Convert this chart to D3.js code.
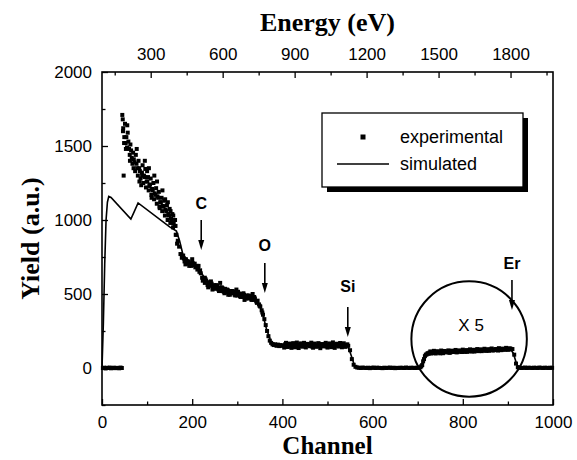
<!DOCTYPE html>
<html>
<head>
<meta charset="utf-8">
<script src="https://cdn.jsdelivr.net/npm/d3@7"></script>
<style>
  body { margin: 0; background: #fff; }
  svg { display: block; }
</style>
</head>
<body>
<div class="canvas"></div>
<script>

// data

// experimental, ch 2..44 step 3 (flat zero stub)
var expLowStart = 2, expLowStep = 3;
var expLow = [0,2,-3,1,0,3,-2,0,2,-1,1,0,-2,3,0];

// experimental, ch 45..399 step 3 (decay + C, O edges)
var expDecayStart = 45, expDecayStep = 3;
var expDecay = [1710,1300,1650,1560,1590,1480,1510,1420,1455,1390,1440,1350,1400,1330,1235,1370,
  1300,1345,1260,1290,1230,1280,1210,1250,1180,1215,1160,1190,1120,1150,1095,1130,1070,1100,
  1040,1075,1010,1040,980,1000,900,860,820,770,745,760,720,735,705,720,700,690,710,695,680,690,
  670,650,640,610,600,575,590,560,580,555,570,545,560,535,555,530,545,520,540,515,535,510,525,
  500,520,505,515,495,510,490,505,485,500,480,495,475,490,470,485,470,480,460,470,450,455,430,
  415,390,360,330,290,250,215,185,170,160,155,160,150,158,148,155,150];

// second pass through the noisy band, ch 46.5..166.5 step 3
var expBandStart = 46.5, expBandStep = 3;
var expBand = [1600,1560,1520,1490,1530,1440,1470,1380,1410,1330,1380,1300,1350,1280,1320,1250,
  1290,1220,1260,1200,1240,1170,1200,1140,1170,1110,1150,1090,1120,1060,1090,1030,1060,1000,
  1030,980,1000,950,960,900,840];

// second pass, ch 181.5..355.5 step 6
var expMidStart = 181.5, expMidStep = 6;
var expMid = [740,715,690,700,705,665,660,590,600,545,585,540,560,520,545,505,530,495,520,490,
  515,480,505,470,490,460,480,440,420,375];

// extra scatter points [channel, yield]
var expScatter = [[46,1680],[47,1620],[49,1520],[53,1480],[56,1640],[62,1400],[70,1350],[77,1480],
  [83,1260],[89,1300],[95,1400],[100,1330],[104,1350],[110,1150],[116,1300],[122,1260],[128,1080],
  [134,1200],[140,1140],[146,1120],[152,1060],[158,1030],[163,960],[185,700],[200,735],[214,690],
  [228,610],[245,530],[262,575],[280,495],[298,530],[316,460],[334,500]];

// experimental, ch 402..702 step 4 (Si plateau and drop)
var expSiStart = 402, expSiStep = 4;
var expSi = [152,160,148,157,150,162,146,155,158,149,163,151,147,156,160,150,145,158,153,149,161,
  148,155,152,146,159,150,154,148,157,151,162,149,153,147,155,150,120,60,22,8,3,
  2,0,3,1,0,2,-1,1,3,0,2,1,0,-1,2,0,1,3,0,2,-1,1,0,2,1,0,3,1,0,2,1,0,2,1];
var expSi2Start = 404, expSi2Step = 4;
var expSi2 = [138,170,142,165,136,168,140,172,135,166,144,170,139,163,147,171,137,165,143,168,
  134,162,146,170,138,166,141,173,136,164,145,169,140,167,143,160];

// experimental, ch 706..998 step 4 (Er, shown x5)
var expErStart = 706, expErStep = 4;
var expEr = [5,20,60,90,100,104,98,107,102,110,104,99,108,112,105,110,103,114,108,111,106,115,
  110,108,117,112,109,118,113,116,111,120,115,118,114,122,117,120,116,124,119,122,125,118,127,
  121,126,123,129,124,130,128,90,30,5,2,0,1,3,0,2,1,0,2,1,0,3,1,0,2,1,0,2,1];
var expEr2Start = 708, expEr2Step = 4;
var expEr2 = [12,45,80,92,96,112,101,116,98,113,106,118,100,115,109,119,104,117,110,122,107,119,
  113,124,109,121,116,126,112,123,118,128,114,126,120,130,117,127,123,132,119,128,125,134,121,
  131,127,136,124,133];

// simulated curve [channel, yield]
var simulated = [[0,0],[3,300],[6,700],[9,1000],[12,1120],[15,1160],[20,1152],[64,1007],[72,1060],
  [80,1115],[150,953],[165,925],[172,860],[180,760],[200,705],[215,670],[235,570],[260,535],
  [300,500],[345,455],[355,380],[365,260],[375,175],[390,155],[545,150],[552,90],[560,15],
  [570,2],[705,2],[712,40],[720,95],[730,105],[905,130],[912,100],[920,20],[928,2],[1000,2]];

// element labels + arrows: channel, label yield, arrow top, arrow tip
var peakLabels = ['C','O','Si','Er'];
var peakChannels = [220, 361, 545, 909];
var peakLabelY = [1115, 831, 554, 709];
var peakArrowTop = [1000, 709, 412, 595];
var peakArrowTip = [797, 507, 209, 392];

// magnified Er region
var zoomCircle = {ch: 814, yield: 196, rCh: 128};
var zoomText = 'X 5';

var chTicks = [0,200,400,600,800,1000];
var chMinor = [100,300,500,700,900];
var yTicks = [0,500,1000,1500,2000];
var yMinor = [-250,250,750,1250,1750];
var eTicks = [300,600,900,1200,1500,1800];
var eMinor = [150,450,750,1050,1350,1650,1950];

var legendNames = ['experimental','simulated'];


// chart

var W = 577, H = 460;
var L = 102, R = 553, T = 72, B = 405;

var svg = d3.select('.canvas')
    .append('svg')
    .attr('width', W)
    .attr('height', H);

var x = d3.scaleLinear().domain([0,1000]).range([L,R]);
var y = d3.scaleLinear().domain([-250,2000]).range([B,T]);
var xe = d3.scaleLinear().domain([97,1977]).range([L,R]);

var sans = "'Liberation Sans', Arial, sans-serif";
var serif = "'Liberation Serif', 'Times New Roman', serif";

// experimental points
var expPts = [];
function addRun(vals, start, step){
    vals.forEach(function(v,i){ expPts.push([start+i*step, v]); });
}
addRun(expLow, expLowStart, expLowStep);
addRun(expDecay, expDecayStart, expDecayStep);
addRun(expBand, expBandStart, expBandStep);
addRun(expMid, expMidStart, expMidStep);
addRun(expSi, expSiStart, expSiStep);
addRun(expSi2, expSi2Start, expSi2Step);
addRun(expEr, expErStart, expErStep);
addRun(expEr2, expEr2Start, expEr2Step);
expScatter.forEach(function(d){ expPts.push(d); });

var ms = 4;
svg.append('g').selectAll('rect')
    .data(expPts)
    .enter().append('rect')
    .attr('x', function(d){ return x(d[0]) - ms/2; })
    .attr('y', function(d){ return y(d[1]) - ms/2; })
    .attr('width', ms)
    .attr('height', ms)
    .attr('fill', '#000');

// simulated line
svg.append('path')
    .datum(simulated)
    .attr('d', d3.line().x(function(d){ return x(d[0]); }).y(function(d){ return y(d[1]); }))
    .attr('fill', 'none')
    .attr('stroke', '#000')
    .attr('stroke-width', 1.6);

// frame
svg.append('rect')
    .attr('x', L).attr('y', T)
    .attr('width', R-L).attr('height', B-T)
    .attr('fill', 'none')
    .attr('stroke', '#000')
    .attr('stroke-width', 1.6);

// axes (ticks point inward)
function styleAxis(g){
    g.select('.domain').remove();
    g.selectAll('line').attr('stroke', '#000').attr('stroke-width', 1.3);
    g.selectAll('text').attr('font-family', sans).attr('font-size', '17px').attr('fill', '#000');
}

svg.append('g').attr('transform', 'translate(0,' + B + ')')
    .call(d3.axisBottom(x).tickValues(chTicks).tickSize(-6).tickPadding(11).tickFormat(d3.format('d')))
    .call(styleAxis);
svg.append('g').attr('transform', 'translate(0,' + B + ')')
    .call(d3.axisBottom(x).tickValues(chMinor).tickSize(-3.5).tickFormat(''))
    .call(styleAxis);

svg.append('g').attr('transform', 'translate(' + L + ',0)')
    .call(d3.axisLeft(y).tickValues(yTicks).tickSize(-6).tickPadding(10).tickFormat(d3.format('d')))
    .call(styleAxis);
svg.append('g').attr('transform', 'translate(' + L + ',0)')
    .call(d3.axisLeft(y).tickValues(yMinor).tickSize(-3.5).tickFormat(''))
    .call(styleAxis);

svg.append('g').attr('transform', 'translate(0,' + T + ')')
    .call(d3.axisTop(xe).tickValues(eTicks).tickSize(-6).tickPadding(12).tickFormat(d3.format('d')))
    .call(styleAxis);
svg.append('g').attr('transform', 'translate(0,' + T + ')')
    .call(d3.axisTop(xe).tickValues(eMinor).tickSize(-3.5).tickFormat(''))
    .call(styleAxis);

// titles
svg.append('text')
    .attr('x', (L+R)/2).attr('y', 31)
    .attr('text-anchor', 'middle')
    .attr('font-family', serif).attr('font-weight', 'bold').attr('font-size', '26px')
    .text('Energy (eV)');

svg.append('text')
    .attr('x', (L+R)/2).attr('y', 454)
    .attr('text-anchor', 'middle')
    .attr('font-family', serif).attr('font-weight', 'bold').attr('font-size', '25px')
    .text('Channel');

svg.append('text')
    .attr('transform', 'translate(39,' + ((T+B)/2) + ') rotate(-90)')
    .attr('text-anchor', 'middle')
    .attr('font-family', serif).attr('font-weight', 'bold').attr('font-size', '26px')
    .text('Yield (a.u.)');

// element arrows
var marks = svg.append('g');
peakLabels.forEach(function(lab, i){
    var px = x(peakChannels[i]);
    marks.append('text')
        .attr('x', px).attr('y', y(peakLabelY[i]) + 6)
        .attr('text-anchor', 'middle')
        .attr('font-family', sans).attr('font-weight', 'bold').attr('font-size', '16px')
        .text(lab);
    var y0 = y(peakArrowTop[i]), y1 = y(peakArrowTip[i]);
    marks.append('line')
        .attr('x1', px).attr('x2', px)
        .attr('y1', y0).attr('y2', y1 - 8)
        .attr('stroke', '#000').attr('stroke-width', 1.6);
    marks.append('path')
        .attr('d', 'M' + (px-3) + ',' + (y1-10) + 'L' + (px+3) + ',' + (y1-10) + 'L' + px + ',' + y1 + 'Z')
        .attr('fill', '#000');
});

// circle around the x5 region
svg.append('circle')
    .attr('cx', x(zoomCircle.ch))
    .attr('cy', y(zoomCircle.yield))
    .attr('r', x(zoomCircle.ch + zoomCircle.rCh) - x(zoomCircle.ch))
    .attr('fill', 'none')
    .attr('stroke', '#000')
    .attr('stroke-width', 2);

svg.append('text')
    .attr('x', x(zoomCircle.ch) + 2).attr('y', y(zoomCircle.yield) - 8)
    .attr('text-anchor', 'middle')
    .attr('font-family', sans).attr('font-size', '17px')
    .text(zoomText);

// legend with shadow
var lg = {x: 322, y: 113, w: 201, h: 74};
svg.append('rect')
    .attr('x', lg.x + 5).attr('y', lg.y + 5)
    .attr('width', lg.w).attr('height', lg.h)
    .attr('fill', '#000');
svg.append('rect')
    .attr('x', lg.x).attr('y', lg.y)
    .attr('width', lg.w).attr('height', lg.h)
    .attr('fill', '#fff')
    .attr('stroke', '#000').attr('stroke-width', 1.3);

var legRows = [lg.y + 24, lg.y + 51];
svg.append('rect')
    .attr('x', 363 - 2.5).attr('y', legRows[0] - 2.5)
    .attr('width', 5).attr('height', 5)
    .attr('fill', '#000');
svg.append('line')
    .attr('x1', 337).attr('x2', 389)
    .attr('y1', legRows[1]).attr('y2', legRows[1])
    .attr('stroke', '#000').attr('stroke-width', 1.6);

legendNames.forEach(function(n, i){
    svg.append('text')
        .attr('x', 400).attr('y', legRows[i] + 6)
        .attr('font-family', sans).attr('font-size', '18px')
        .text(n);
});

</script>
</body>
</html>
